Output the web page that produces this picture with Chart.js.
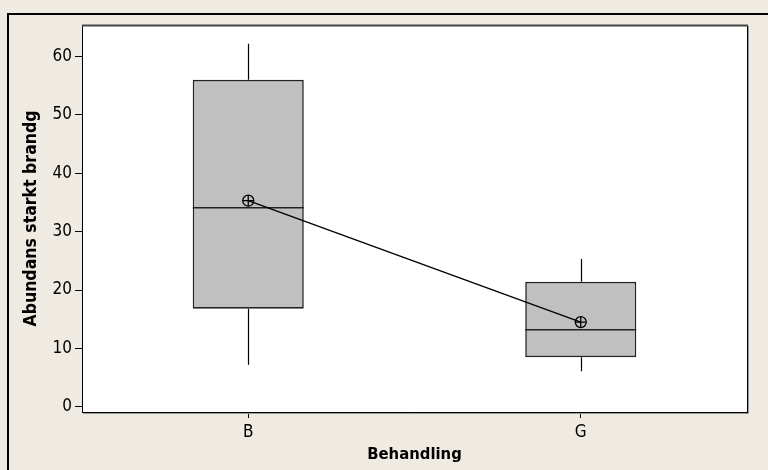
<!DOCTYPE html>
<html>
<head>
<meta charset="utf-8">
<script src="https://cdn.jsdelivr.net/npm/chart.js@4"></script>
<style>
  html, body { margin: 0; padding: 0; background: #EFEBE2; }
  #wrap { width: 768px; height: 470px; }
</style>
</head>
<body>
<div id="wrap"><canvas id="c" width="768" height="470"></canvas></div>
<script>
// Boxplot of "Abundans starkt brandg" per treatment
const categories  = ['B', 'G'];
const whiskerLow  = [7.2, 6.1];
const q1          = [16.8, 8.5];
const median      = [34.1, 13.2];
const q3          = [56.0, 21.4];
const whiskerHigh = [62.2, 25.3];
const mean        = [35.3, 14.5];
const yTicks      = [0, 10, 20, 30, 40, 50, 60];

const FONT = '"DejaVu Sans Condensed", "DejaVu Sans", sans-serif';

// Page background, outer frame and plot-area frame
const framePlugin = {
  id: 'frame',
  beforeDraw(chart) {
    const { ctx, width, height, chartArea: a } = chart;
    ctx.save();
    ctx.fillStyle = '#EFEBE2';
    ctx.fillRect(0, 0, width, height);
    ctx.strokeStyle = '#000';
    ctx.lineWidth = 2;
    ctx.beginPath();
    ctx.moveTo(8, height);
    ctx.lineTo(8, 14);
    ctx.lineTo(width, 14);
    ctx.stroke();
    ctx.fillStyle = '#fff';
    ctx.fillRect(a.left, a.top, a.right - a.left, a.bottom - a.top);
    ctx.restore();
  },
  afterDraw(chart) {
    const { ctx, chartArea: a } = chart;
    ctx.save();
    ctx.lineWidth = 1;
    ctx.strokeStyle = '#999';
    ctx.beginPath();
    ctx.moveTo(a.right + 1.5, a.top + 1);
    ctx.lineTo(a.right + 1.5, a.bottom + 1.5);
    ctx.lineTo(a.left + 1, a.bottom + 1.5);
    ctx.stroke();
    ctx.strokeStyle = '#000';
    ctx.beginPath();
    ctx.moveTo(a.right + 0.5, a.top);
    ctx.lineTo(a.right + 0.5, a.bottom + 0.5);
    ctx.stroke();
    ctx.strokeStyle = '#444';
    ctx.lineWidth = 2;
    ctx.beginPath();
    ctx.moveTo(a.left, a.top + 0.5);
    ctx.lineTo(a.right + 1, a.top + 0.5);
    ctx.stroke();
    ctx.restore();
  }
};

// Whiskers and median lines, placed with the chart's scales
const boxPlugin = {
  id: 'boxParts',
  afterDatasetDraw(chart, args) {
    if (args.index !== 0) return;
    const { ctx, scales: { y } } = chart;
    const bars = chart.getDatasetMeta(0).data;
    ctx.save();
    bars.forEach((bar, i) => {
      const x = Math.round(bar.x) + 0.5;
      const half = bar.width / 2;
      ctx.strokeStyle = '#000';
      ctx.lineWidth = 1.2;
      ctx.beginPath();
      ctx.moveTo(x, y.getPixelForValue(q3[i]));
      ctx.lineTo(x, y.getPixelForValue(whiskerHigh[i]));
      ctx.moveTo(x, y.getPixelForValue(q1[i]));
      ctx.lineTo(x, y.getPixelForValue(whiskerLow[i]));
      ctx.stroke();
      ctx.strokeStyle = '#222';
      ctx.lineWidth = 1.6;
      const my = y.getPixelForValue(median[i]);
      ctx.beginPath();
      ctx.moveTo(bar.x - half, my);
      ctx.lineTo(bar.x + half, my);
      ctx.stroke();
    });
    ctx.restore();
  }
};

new Chart(document.getElementById('c'), {
  data: {
    labels: categories,
    datasets: [
      {
        type: 'bar',
        data: categories.map((_, i) => [q1[i], q3[i]]),
        backgroundColor: '#C0C0C0',
        borderColor: '#222',
        borderWidth: 1.6,
        borderSkipped: false,
        barPercentage: 0.334,
        categoryPercentage: 1,
        order: 3
      },
      {
        type: 'line',
        data: mean,
        borderColor: '#000',
        borderWidth: 1.4,
        pointStyle: 'circle',
        pointRadius: 5.5,
        pointBorderWidth: 1.3,
        pointBackgroundColor: 'rgba(0,0,0,0)',
        pointBorderColor: '#000',
        fill: false,
        order: 2
      },
      {
        type: 'line',
        data: mean,
        showLine: false,
        pointStyle: 'cross',
        pointRadius: 5.5,
        pointBorderWidth: 1.3,
        pointBorderColor: '#000',
        order: 1
      }
    ]
  },
  options: {
    responsive: false,
    animation: false,
    devicePixelRatio: 1,
    layout: { padding: { left: 0, top: 25, right: 21, bottom: 0 } },
    plugins: { legend: { display: false }, tooltip: { enabled: false } },
    scales: {
      x: {
        type: 'category',
        offset: true,
        grid: { display: true, drawOnChartArea: false, offset: false, tickLength: 6, color: '#000' },
        border: { display: true, color: '#000', width: 1 },
        ticks: { color: '#000', padding: 4, font: { family: FONT, size: 17 } },
        title: { display: true, text: 'Behandling', color: '#000',
                 font: { family: FONT, size: 16.5, weight: 'bold' }, padding: { top: 0, bottom: 5 } },
        afterFit(s) { s.height = 58; }
      },
      y: {
        type: 'linear',
        min: -0.9,
        max: 65.4,
        grid: { display: true, drawOnChartArea: false, tickLength: 7, color: '#000' },
        border: { display: true, color: '#000', width: 1 },
        ticks: { color: '#000', padding: 3, stepSize: 10, includeBounds: false,
                 font: { family: FONT, size: 17 } },
        afterBuildTicks(s) { s.ticks = yTicks.map(v => ({ value: v })); },
        title: { display: true, text: 'Abundans starkt brandg', color: '#000',
                 font: { family: FONT, size: 17.5, weight: 'bold' }, padding: { top: 21, bottom: 0 } },
        afterFit(s) { s.width = 82; }
      }
    }
  },
  plugins: [framePlugin, boxPlugin]
});
</script>
</body>
</html>
